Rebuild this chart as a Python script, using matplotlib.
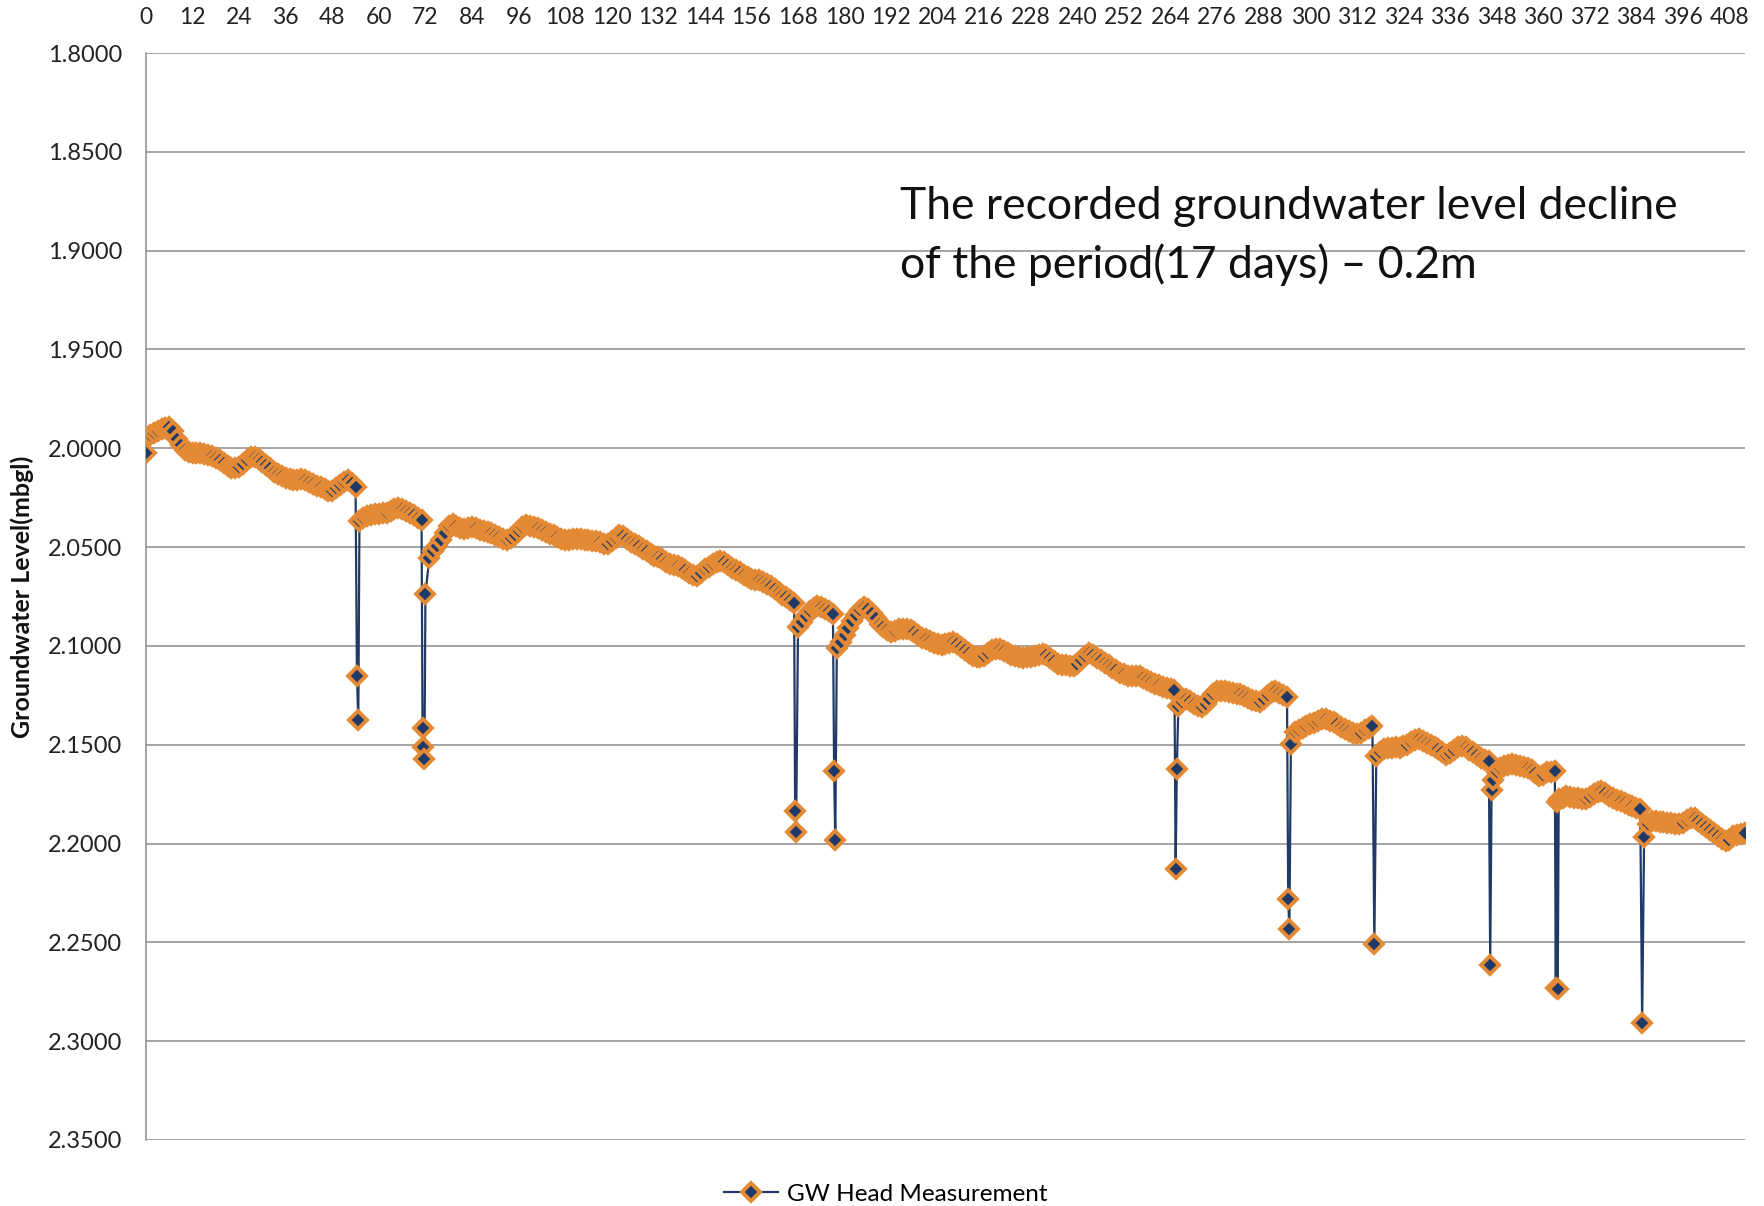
import numpy as np
import matplotlib
matplotlib.use("Agg")
import matplotlib.pyplot as plt
from matplotlib.ticker import FormatStrFormatter

plt.rcParams['font.family'] = ['Lato', 'DejaVu Sans']

# === Hourly groundwater head (mbgl), hours 0..412 ===
hourly_level = [
    2.0025, 1.9935, 1.9925, 1.9915, 1.9905, 1.9895, 1.9890, 1.9915, 1.9955, 1.9985, 2.0010, 2.0020,
    2.0025, 2.0022, 2.0025, 2.0030, 2.0034, 2.0040, 2.0050, 2.0060, 2.0075, 2.0088, 2.0098, 2.0101,
    2.0095, 2.0080, 2.0060, 2.0045, 2.0042, 2.0055, 2.0070, 2.0084, 2.0100, 2.0118, 2.0132, 2.0142,
    2.0150, 2.0157, 2.0160, 2.0162, 2.0158, 2.0160, 2.0170, 2.0180, 2.0190, 2.0195, 2.0205, 2.0218,
    2.0215, 2.0200, 2.0185, 2.0172, 2.0160, 2.0175, 2.0197, 2.0370, 2.0355, 2.0345, 2.0338, 2.0335,
    2.0333, 2.0330, 2.0328, 2.0318, 2.0305, 2.0300, 2.0305, 2.0318, 2.0328, 2.0340, 2.0352, 2.0362,
    2.0737, 2.0556, 2.0522, 2.0497, 2.0463, 2.0430, 2.0395, 2.0385, 2.0392, 2.0402, 2.0408, 2.0405,
    2.0400, 2.0405, 2.0415, 2.0421, 2.0425, 2.0430, 2.0440, 2.0450, 2.0460, 2.0463, 2.0455, 2.0440,
    2.0420, 2.0400, 2.0387, 2.0392, 2.0400, 2.0405, 2.0415, 2.0425, 2.0432, 2.0440, 2.0450, 2.0458,
    2.0462, 2.0465, 2.0460, 2.0458, 2.0458, 2.0462, 2.0466, 2.0468, 2.0470, 2.0475, 2.0482, 2.0483,
    2.0470, 2.0452, 2.0437, 2.0445, 2.0460, 2.0472, 2.0483, 2.0495, 2.0510, 2.0522, 2.0535, 2.0545,
    2.0551, 2.0562, 2.0575, 2.0585, 2.0590, 2.0595, 2.0605, 2.0618, 2.0630, 2.0640, 2.0644, 2.0630,
    2.0612, 2.0600, 2.0585, 2.0575, 2.0568, 2.0575, 2.0590, 2.0605, 2.0618, 2.0627, 2.0640, 2.0650,
    2.0660, 2.0665, 2.0669, 2.0675, 2.0685, 2.0698, 2.0711, 2.0725, 2.0740, 2.0755, 2.0770, 2.0782,
    2.0905, 2.0880, 2.0850, 2.0825, 2.0810, 2.0800, 2.0805, 2.0815, 2.0825, 2.0838, 2.1012, 2.0980,
    2.0945, 2.0910, 2.0875, 2.0845, 2.0820, 2.0804, 2.0815, 2.0835, 2.0860, 2.0889, 2.0905, 2.0920,
    2.0931, 2.0925, 2.0915, 2.0912, 2.0914, 2.0920, 2.0930, 2.0945, 2.0958, 2.0965, 2.0975, 2.0985,
    2.0992, 2.0995, 2.0990, 2.0984, 2.0981, 2.0990, 2.1005, 2.1020, 2.1035, 2.1049, 2.1055, 2.1058,
    2.1050, 2.1035, 2.1022, 2.1015, 2.1018, 2.1025, 2.1035, 2.1045, 2.1052, 2.1057, 2.1060, 2.1058,
    2.1055, 2.1050, 2.1045, 2.1041, 2.1048, 2.1060, 2.1075, 2.1090, 2.1095, 2.1098, 2.1100, 2.1101,
    2.1090, 2.1070, 2.1050, 2.1034, 2.1045, 2.1060, 2.1072, 2.1084, 2.1098, 2.1110, 2.1122, 2.1135,
    2.1143, 2.1150, 2.1152, 2.1150, 2.1152, 2.1160, 2.1170, 2.1185, 2.1194, 2.1200, 2.1208, 2.1215,
    2.1218, 2.1222, 2.1303, 2.1285, 2.1269, 2.1280, 2.1295, 2.1305, 2.1311, 2.1295, 2.1270, 2.1245,
    2.1230, 2.1227, 2.1230, 2.1235, 2.1238, 2.1242, 2.1244, 2.1252, 2.1262, 2.1272, 2.1280, 2.1286,
    2.1270, 2.1250, 2.1235, 2.1227, 2.1240, 2.1250, 2.1261, 2.1497, 2.1438, 2.1425, 2.1415, 2.1404,
    2.1395, 2.1388, 2.1378, 2.1370, 2.1372, 2.1378, 2.1385, 2.1396, 2.1408, 2.1420, 2.1432, 2.1440,
    2.1446, 2.1440, 2.1428, 2.1415, 2.1404, 2.1556, 2.1535, 2.1522, 2.1518, 2.1515, 2.1513, 2.1515,
    2.1508, 2.1500, 2.1488, 2.1475, 2.1472, 2.1480, 2.1490, 2.1500, 2.1512, 2.1522, 2.1535, 2.1550,
    2.1540, 2.1525, 2.1510, 2.1505, 2.1512, 2.1525, 2.1539, 2.1552, 2.1565, 2.1575, 2.1584, 2.1676,
    2.1640, 2.1618, 2.1608, 2.1602, 2.1600, 2.1605, 2.1610, 2.1615, 2.1618, 2.1630, 2.1645, 2.1660,
    2.1652, 2.1640, 2.1640, 2.1634, 2.1777, 2.1768, 2.1760, 2.1762, 2.1768, 2.1772, 2.1776, 2.1777,
    2.1765, 2.1750, 2.1738, 2.1735, 2.1745, 2.1758, 2.1770, 2.1780, 2.1786, 2.1795, 2.1805, 2.1812,
    2.1818, 2.1824, 2.1967, 2.1900, 2.1887, 2.1888, 2.1890, 2.1893, 2.1895, 2.1898, 2.1900, 2.1903,
    2.1895, 2.1882, 2.1872, 2.1870, 2.1885, 2.1900, 2.1915, 2.1929, 2.1945, 2.1960, 2.1975, 2.1987,
    2.1980, 2.1962, 2.1955, 2.1950, 2.1949,
]

# === Extra readings taken during the pumping drawdown spikes ===
spike_hours = [54.35, 54.7, 71.25, 71.5, 71.75, 167.25, 167.5, 177.3, 177.6,
               265.3, 265.6, 294.3, 294.6, 316.5, 346.35, 346.7,
               363.25, 363.5, 363.75, 385.5]
spike_levels = [2.1153, 2.1375, 2.1417, 2.1510, 2.1574, 2.1834, 2.1944, 2.1635, 2.1983,
                2.2131, 2.1623, 2.2283, 2.2431, 2.2507, 2.2613, 2.1730,
                2.2732, 2.1790, 2.2735, 2.2908]

x_ticks = list(range(0, 409, 12))
y_ticks = [1.80, 1.85, 1.90, 1.95, 2.00, 2.05, 2.10, 2.15, 2.20, 2.25, 2.30, 2.35]

note_text = "The recorded groundwater level decline\nof the period(17 days) \u2013 0.2m"
series_name = "GW Head Measurement"

# merge hourly readings with the spike readings in time order
hours = np.concatenate([np.arange(len(hourly_level)), spike_hours])
levels = np.concatenate([hourly_level, spike_levels])
order = np.argsort(hours, kind="stable")
hours, levels = hours[order], levels[order]

# === Plot ===
fig = plt.figure(figsize=(17.65, 12.06), dpi=100)
ax = fig.add_axes([146 / 1765, 1 - 1140 / 1206, (1745 - 146) / 1765, (1140 - 53) / 1206])

navy = "#1F3A66"
orange = "#E48A35"
grid_c = "#8C8C8C"

ax.plot(hours, levels, color=navy, lw=1.6, marker="D", ms=9.5,
        mfc=navy, mec=orange, mew=2.8, label=series_name, zorder=3)

ax.set_xlim(0, 412)
ax.set_ylim(2.35, 1.80)
ax.set_xticks(x_ticks)
ax.set_yticks(y_ticks)
ax.yaxis.set_major_formatter(FormatStrFormatter("%.4f"))
ax.xaxis.tick_top()
ax.tick_params(axis="x", length=0, pad=18, labelsize=16.5, colors="#222222")
ax.tick_params(axis="y", length=0, pad=17, labelsize=17, colors="#222222")

ax.grid(axis="y", color=grid_c, lw=1.1)
ax.set_axisbelow(True)
for s in ["top", "right", "bottom"]:
    ax.spines[s].set_visible(False)
ax.spines["left"].set_color(grid_c)
ax.spines["left"].set_linewidth(1.1)

fig.text(22 / 1765, 1 - 597 / 1206, "Groundwater Level(mbgl)", rotation=90,
         fontsize=18, fontweight="bold", ha="center", va="center", color="#111111")

fig.text(900 / 1765, 1 - 186 / 1206, note_text, fontsize=32, ha="left", va="top",
         linespacing=1.48, color="#111111")

fig.legend(loc="center", bbox_to_anchor=(886 / 1765, 1 - 1194 / 1206), frameon=False,
           fontsize=17.5, handlelength=2.2, handletextpad=0.4)

fig.savefig("out.png", dpi=100)
